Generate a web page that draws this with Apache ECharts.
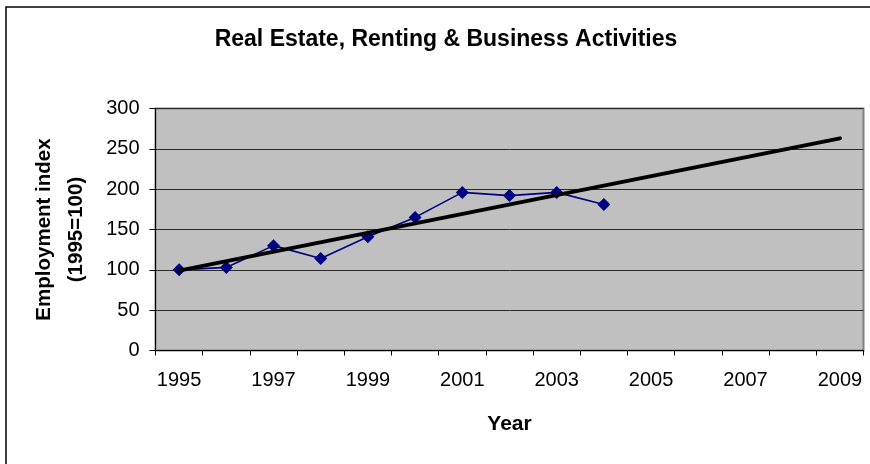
<!DOCTYPE html>
<html>
<head>
<meta charset="utf-8">
<script src="https://cdn.jsdelivr.net/npm/echarts@6/dist/echarts.min.js"></script>
<style>
  html, body { margin: 0; padding: 0; background: #fff; }
  #chart { width: 870px; height: 464px; }
</style>
</head>
<body>
<div id="chart"></div>
<script>
// Year categories along the x axis (label shown every other year)
const years = ['1995','1996','1997','1998','1999','2000','2001','2002','2003','2004','2005','2006','2007','2008','2009'];
// Employment index, 1995 = 100
const employment = [100, 103, 130, 114, 141, 165, 196, 192, 196, 181];
// Linear trend line: value at the first and last year
const trendYears = ['1995', '2009'];
const trendValues = [99, 263];
// Value axis ticks
const yTicks = { min: 0, max: 300, interval: 50 };

const FONT = 'Liberation Sans, Arial, sans-serif';

const chart = echarts.init(document.getElementById('chart'), null, { renderer: 'canvas' });

chart.setOption({
  animation: false,
  backgroundColor: '#ffffff',
  title: {
    text: 'Real Estate, Renting & Business Activities',
    left: 441,
    top: 23,
    textAlign: 'center',
    textStyle: { fontFamily: FONT, fontSize: 23, fontWeight: 'bold', color: '#000' }
  },
  graphic: [{
    type: 'rect',
    shape: { x: 6, y: 7, width: 900, height: 500 },
    style: { fill: 'none', stroke: '#000', lineWidth: 1.5 },
    silent: true,
    z: 100
  }],
  grid: {
    left: 155.5,
    top: 108.5,
    right: 6.5,
    bottom: 113.5,
    show: true,
    backgroundColor: '#C0C0C0',
    borderColor: '#808080',
    borderWidth: 2
  },
  xAxis: {
    type: 'category',
    data: years,
    boundaryGap: true,
    name: 'Year',
    nameLocation: 'middle',
    nameGap: 63,
    nameTextStyle: { fontFamily: FONT, fontSize: 21, fontWeight: 'bold', color: '#000' },
    axisLine: { show: true, lineStyle: { color: '#000', width: 1 } },
    axisTick: { show: true, interval: 0, length: 5, lineStyle: { color: '#000' } },
    axisLabel: { interval: 1, margin: 20, fontFamily: FONT, fontSize: 20, color: '#000' },
    splitLine: { show: false }
  },
  yAxis: {
    type: 'value',
    min: yTicks.min,
    max: yTicks.max,
    interval: yTicks.interval,
    name: 'Employment index\n(1995=100)',
    nameLocation: 'middle',
    nameRotate: 90,
    nameGap: 63,
    nameTextStyle: { fontFamily: FONT, fontSize: 20.5, fontWeight: 'bold', color: '#000', lineHeight: 32 },
    axisLine: { show: true, lineStyle: { color: '#000', width: 1 } },
    axisTick: { show: true, length: 6, lineStyle: { color: '#000' } },
    axisLabel: { margin: 16, fontFamily: FONT, fontSize: 20, color: '#000' },
    splitLine: { show: true, lineStyle: { color: '#2a2a2a', width: 1 } }
  },
  series: [
    {
      name: 'Employment index',
      type: 'line',
      data: employment,
      symbol: 'diamond',
      symbolSize: 13,
      lineStyle: { color: '#000080', width: 1.6 },
      itemStyle: { color: '#000080' },
      z: 3
    },
    {
      name: 'Linear trend',
      type: 'line',
      data: trendYears.map((y, i) => [y, trendValues[i]]),
      symbol: 'none',
      lineStyle: { color: '#000', width: 4, cap: 'round' },
      z: 4
    }
  ]
});
</script>
</body>
</html>
